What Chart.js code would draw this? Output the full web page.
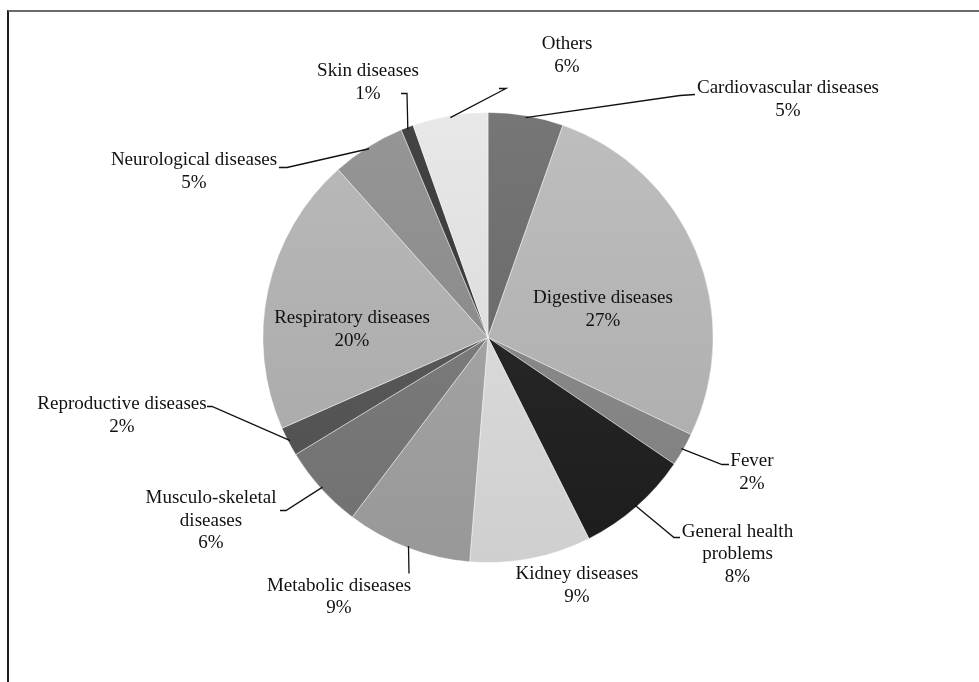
<!DOCTYPE html>
<html><head><meta charset="utf-8">
<script src="https://cdn.jsdelivr.net/npm/chart.js@4.4.1/dist/chart.umd.min.js"></script>
<style>
html,body{margin:0;padding:0;background:#fff;overflow:hidden}
#wrap{position:relative;width:979px;height:682px}
#frame{position:absolute;left:7px;top:10px;width:1200px;height:1000px;border-left:2px solid #1e1e1e;border-top:2px solid #6a6a6a;box-sizing:border-box}
#c{position:absolute;left:0;top:0}
</style></head><body>
<div id="wrap"><div id="frame"></div><canvas id="c" width="979" height="682"></canvas></div>
<script>
const categories = ['Cardiovascular diseases','Digestive diseases','Fever','General health problems','Kidney diseases','Metabolic diseases','Musculo-skeletal diseases','Reproductive diseases','Respiratory diseases','Neurological diseases','Skin diseases','Others'];
const values = [5.4, 26.7, 2.4, 8.1, 8.7, 9.0, 6.0, 2.1, 20.0, 5.3, 0.9, 5.4];
const shownPercent = [5, 27, 2, 8, 9, 9, 6, 2, 20, 5, 1, 6];
const sliceGrays = [108, 180, 136, 38, 217, 162, 122, 88, 176, 140, 58, 222];

const lineGap = 22.5;
const labelLayout = [
  {dx:300, dy:-249, bend:[192,-242], tick:[207,-243]},
  {dx:115, dy:-39},
  {dx:264, dy:124, bend:[234,127], tick:[241,127]},
  {dx:249.5, dy:194.5, split:2, bend:[186,200], tick:[192,200]},
  {dx:89, dy:237},
  {dx:-149, dy:248.5, bend:[-79,236]},
  {dx:-277, dy:161, split:1, bend:[-202,173], tick:[-208,173]},
  {dx:-366, dy:67, bend:[-276,69], tick:[-281,69]},
  {dx:-136, dy:-19},
  {dx:-294, dy:-177, bend:[-201,-170], tick:[-209,-170]},
  {dx:-120, dy:-266, bend:[-81,-244], tick:[-87,-244]},
  {dx:79, dy:-293, bend:[18,-249], tick:[11,-249]}
];

function g(v){v=Math.max(0,Math.min(255,Math.round(v)));return 'rgb('+v+','+v+','+v+')';}

const labelPlugin = {
  id:'pieLabels',
  afterDatasetsDraw(chart){
    const ctx = chart.ctx;
    const meta = chart.getDatasetMeta(0);
    ctx.save();
    ctx.font = "19px 'Liberation Serif', 'Times New Roman', serif";
    ctx.fillStyle = '#111';
    ctx.textAlign = 'center';
    ctx.textBaseline = 'middle';
    ctx.strokeStyle = '#111';
    ctx.lineWidth = 1.3;
    meta.data.forEach((arc, i) => {
      const L = labelLayout[i];
      const cx = arc.x, cy = arc.y;
      if (L.bend) {
        const mid = (arc.startAngle + arc.endAngle) / 2;
        const r = arc.outerRadius - 2;
        ctx.beginPath();
        ctx.moveTo(cx + Math.cos(mid) * r, cy + Math.sin(mid) * r);
        ctx.lineTo(cx + L.bend[0], cy + L.bend[1]);
        if (L.tick) ctx.lineTo(cx + L.tick[0], cy + L.tick[1]);
        ctx.stroke();
      }
      const words = categories[i].split(' ');
      const lines = L.split ? [words.slice(0, L.split).join(' '), words.slice(L.split).join(' ')] : [categories[i]];
      lines.push(shownPercent[i] + '%');
      lines.forEach((t, k) => ctx.fillText(t, cx + L.dx, cy + L.dy + k * lineGap));
    });
    ctx.restore();
  }
};

new Chart(document.getElementById('c'), {
  type: 'pie',
  data: {
    labels: categories,
    datasets: [{
      data: values,
      backgroundColor: (c) => {
        const base = sliceGrays[c.dataIndex];
        const a = c.chart.chartArea;
        if (!a) return g(base);
        const grad = c.chart.ctx.createLinearGradient(0, a.top, 0, a.bottom);
        grad.addColorStop(0, g(base + 10));
        grad.addColorStop(1, g(base - 10));
        return grad;
      },
      borderColor: 'rgba(255,255,255,0.55)',
      borderWidth: 0.8
    }]
  },
  options: {
    responsive: false,
    animation: false,
    rotation: 0,
    layout: {padding: {top: 112, bottom: 119, left: 0, right: 3}},
    plugins: {legend: {display: false}, tooltip: {enabled: false}}
  },
  plugins: [labelPlugin]
});
</script>
</body></html>
